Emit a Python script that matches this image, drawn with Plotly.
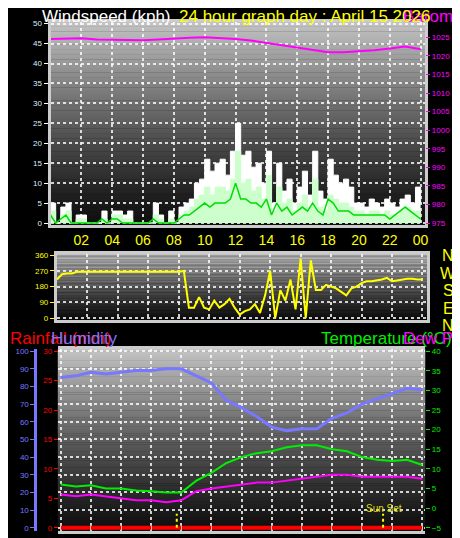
import plotly.graph_objects as go

# hours for 20-minute samples and hourly samples
t20 = [i / 3 for i in range(73)]
t60 = list(range(25))

gust = [5, 0, 4, 5, 0, 2, 2, 0, 0, 0, 3, 0, 3, 3, 2, 3, 0, 0, 0, 0, 5, 2, 0, 3,
        0, 4, 5, 6, 10, 11, 16, 13, 15, 16, 12, 18, 25, 17, 18, 14, 15, 10, 18, 5, 15,
        8, 11, 5, 9, 13, 7, 18, 8, 6, 16, 12, 10, 11, 9, 5, 5, 4, 6, 5, 4, 6, 5, 4, 6,
        7, 5, 9, 5]
avg = [3, 0, 2, 3, 0, 1, 1, 0, 0, 0, 1, 0, 2, 2, 1, 1, 0, 0, 0, 0, 2, 1, 0, 1,
       0, 2, 3, 4, 6, 7, 9, 7, 9, 9, 8, 11, 18, 10, 11, 8, 9, 6, 12, 3, 9,
       5, 6, 3, 5, 7, 4, 11, 4, 3, 7, 6, 5, 5, 4, 3, 3, 2, 3, 3, 2, 3, 2, 2, 3,
       4, 3, 3, 2]
wind = [2, 0, 1, 2, 0, 0, 0, 0, 0, 0, 1, 0, 1, 1, 0, 0, 0, 0, 0, 0, 1, 0, 0, 0,
        0, 1, 2, 2, 3, 4, 5, 4, 5, 5, 5, 6, 10, 6, 6, 5, 5, 4, 6, 2, 5,
        3, 4, 2, 3, 4, 3, 5, 3, 2, 6, 5, 3, 3, 3, 2, 2, 2, 2, 2, 2, 2, 1, 2, 3,
        4, 3, 2, 1]
direction = [220, 250, 255, 255, 265, 265] + [265] * 18 + [265, 270, 60,
             60, 120, 60, 50, 100, 60, 80, 110, 60, 20, 40, 50, 80, 30, 130,
             270, 0, 160, 100, 220, 50, 340, 0, 330, 160, 160, 190, 180, 170, 150,
             130, 170, 180, 200, 210, 210, 215, 220, 230, 210, 215, 220, 225, 225, 220, 220]

pressure = [1024.5, 1024.6, 1024.7, 1024.4, 1024.3, 1024.3, 1024.2, 1024.4, 1024.7, 1024.9,
            1025.0, 1024.8, 1024.5, 1024.1, 1023.5, 1022.8, 1022.1, 1021.6, 1021.0, 1021.0,
            1021.2, 1021.5, 1022.0, 1022.5, 1021.8]
humidity = [85, 86, 88, 87, 88, 89, 89, 90, 90, 86, 82, 72, 68, 63, 57, 55, 56, 56,
            62, 65, 70, 73, 76, 79, 78]
temperature = [6, 5.5, 5.8, 5, 5, 4.5, 4.3, 4, 4, 7, 9, 11.5, 13, 14, 14.5, 15.5, 16, 16,
               15, 14.5, 13, 12.3, 12, 12.3, 11]
dewpoint = [3.5, 3, 3.5, 3, 2.5, 2, 2, 1.5, 2, 4.3, 5, 5.5, 6, 6.5, 6.5, 7, 7.5, 8, 8.5,
            8.5, 8, 8, 8, 8, 7.5]
rainfall = [0] * 25
sun_times = [7.7, 21.4]
hour_ticks = [2, 4, 6, 8, 10, 12, 14, 16, 18, 20, 22, 24]
hour_labels = ["02", "04", "06", "08", "10", "12", "14", "16", "18", "20", "22", "00"]

fig = go.Figure()
fig.add_trace(go.Scatter(x=t20, y=gust, fill="tozeroy", mode="lines", line=dict(color="white", width=1, shape="hv"),
                         fillcolor="white", xaxis="x", yaxis="y"))
fig.add_trace(go.Scatter(x=t20, y=avg, fill="tozeroy", mode="lines", line=dict(color="#ccffcc", width=1, shape="hv"),
                         fillcolor="#ccffcc", xaxis="x", yaxis="y"))
fig.add_trace(go.Scatter(x=t20, y=wind, mode="lines", line=dict(color="#00dd00", width=1.5), xaxis="x", yaxis="y"))
fig.add_trace(go.Scatter(x=t60, y=pressure, mode="lines", line=dict(color="#ff00ff", width=2), xaxis="x", yaxis="y2"))
fig.add_trace(go.Scatter(x=t20, y=direction, mode="lines", line=dict(color="yellow", width=2), xaxis="x2", yaxis="y3"))
fig.add_trace(go.Scatter(x=t60, y=humidity, mode="lines", line=dict(color="#7777ff", width=3), xaxis="x3", yaxis="y4"))
fig.add_trace(go.Scatter(x=t60, y=temperature, mode="lines", line=dict(color="#00ee00", width=2), xaxis="x3", yaxis="y6"))
fig.add_trace(go.Scatter(x=t60, y=dewpoint, mode="lines", line=dict(color="#ff00ff", width=2), xaxis="x3", yaxis="y6"))
fig.add_trace(go.Scatter(x=t60, y=rainfall, mode="lines", line=dict(color="red", width=4), xaxis="x3", yaxis="y5"))

shapes = []
# vertical gray gradient backgrounds for each panel
for xr, yr in [("x", "y"), ("x2", "y3"), ("x3", "y4")]:
    n = 80
    for i in range(n):
        g = int(15 + 180 * (i / (n - 1)) ** 1.2)
        shapes.append(dict(type="rect", xref=xr + " domain", yref=yr + " domain", x0=0, x1=1,
                           y0=i / n, y1=(i + 1) / n + 0.002, fillcolor=f"rgb({g},{g},{g})", line_width=0,
                           layer="below"))
for s in sun_times:
    shapes.append(dict(type="line", xref="x3", yref="y4", x0=s, x1=s, y0=0, y1=8,
                       line=dict(color="yellow", width=2, dash="dot")))
fig.update_layout(shapes=shapes)

grid = dict(showgrid=True, gridcolor="rgba(255,255,255,0.8)", griddash="dot", gridwidth=1.5, zeroline=False)
frame = dict(showline=True, linecolor="#cccccc", linewidth=3, mirror=True)
tf = dict(family="Arial", size=8)

fig.update_layout(
    width=460, height=538, margin=dict(l=0, r=0, t=0, b=0),
    paper_bgcolor="black", plot_bgcolor="rgba(0,0,0,0)", showlegend=False,
    xaxis=dict(domain=[0.093, 0.913], range=[0, 24.3], tickvals=hour_ticks, ticktext=hour_labels,
               tickfont=dict(family="Arial", size=14, color="yellow"), ticks="", anchor="y", **grid, **frame),
    yaxis=dict(domain=[0.597, 0.98], range=[-0.6, 50.5], dtick=5, tickfont=dict(tf, color="#ddeeff"),
               ticks="outside", tickcolor="white", ticklen=4, **grid, **frame),
    yaxis2=dict(overlaying="y", side="right", range=[974.4, 1029.2], dtick=5, anchor="x",
                tickfont=dict(tf, color="#ff00ff"), ticks="outside", tickcolor="#ff00ff", ticklen=4,
                showgrid=False, zeroline=False),
    xaxis2=dict(domain=[0.107, 0.917], range=[0, 24.3], tickvals=hour_ticks, showticklabels=False,
                anchor="y3", **grid, **frame),
    yaxis3=dict(domain=[0.42, 0.543], range=[-8, 365], tickvals=[0, 90, 180, 270, 360],
                tickfont=dict(tf, color="yellow"), ticks="outside", tickcolor="yellow", ticklen=4,
                anchor="x2", **grid, **frame),
    xaxis3=dict(domain=[0.109, 0.913], range=[-0.2, 24.2], tickvals=list(range(0, 25, 2)), showticklabels=False,
                ticks="inside", tickcolor="#cccccc", anchor="y4", **grid, **frame),
    yaxis4=dict(domain=[0.022, 0.364], range=[-2, 101], dtick=10, anchor="free", position=0.06,
                tickfont=dict(tf, color="#7777ff"), ticks="outside", tickcolor="#7777ff", ticklen=4,
                showline=True, linecolor="#7777ff", linewidth=3, showgrid=True, gridcolor="rgba(255,255,255,0.8)",
                griddash="dot", gridwidth=1.5, zeroline=False),
    yaxis5=dict(overlaying="y4", range=[-0.6, 30.3], dtick=5, anchor="free", position=0.109,
                tickfont=dict(tf, color="red"), ticks="outside", tickcolor="red", ticklen=4,
                showgrid=False, zeroline=False),
    yaxis6=dict(overlaying="y4", side="right", anchor="x3", range=[-5.9, 40.45], dtick=5,
                tickfont=dict(tf, color="#00ee00"), ticks="outside", tickcolor="#00ee00", ticklen=4,
                showgrid=False, zeroline=False),
)

def label(text, x, y, color, size=17, anchor="left"):
    fig.add_annotation(text=text, xref="paper", yref="paper", x=x, y=y, xanchor=anchor, yanchor="middle",
                       showarrow=False, font=dict(family="Arial", size=size, color=color))

label("Windspeed (kph)", 0.07, 0.99, "white")
label("Barometer (hPa)", 0.86, 0.99, "#ff00ff")
label("24 hour graph day : April 15 2026", 0.37, 0.99, "yellow")
label("Rainfall (mm)", 0.0, 0.385, "red")
label("Humidity", 0.09, 0.385, "#7777ff")
label("Temperature (°C)", 0.68, 0.385, "#00ee00")
label("Dew Point", 0.86, 0.385, "#ff00ff")
label("Sun Set", 0.78, 0.064, "#dddd00", size=10)
for i, d in enumerate(["N", "W", "S", "E", "N"]):
    label(d, 0.963, 0.54 - i * 0.033, "yellow", size=16, anchor="center")

fig.write_html("out.html")
